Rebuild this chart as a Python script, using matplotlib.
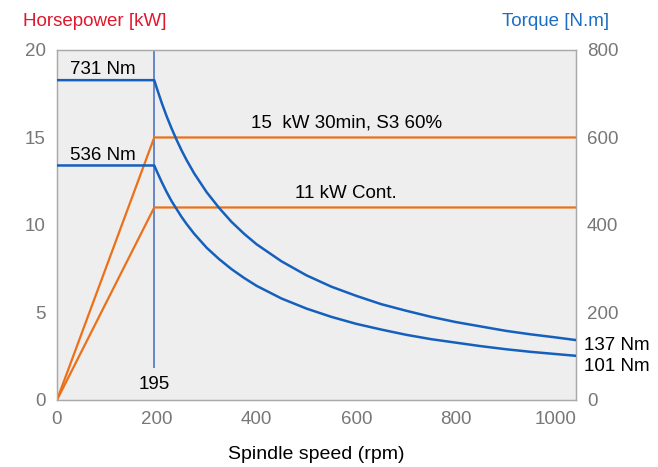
import matplotlib.pyplot as plt

plt.rcParams['font.family'] = ['Liberation Sans', 'DejaVu Sans']

# power curves (kW) vs spindle speed (rpm)
power_speed = [0, 195, 1040]
power_s3 = [0, 15, 15]
power_cont = [0, 11, 11]

# torque curves (Nm) vs spindle speed (rpm)
torque_speed = [0, 195, 200, 210, 220, 230, 240, 250, 260, 275, 300, 325,
                350, 375, 400, 450, 500, 550, 600, 650, 700, 750, 800,
                850, 900, 950, 1000, 1040]
torque_s3 = [731, 731, 713, 679, 648, 620, 594, 570, 548, 518, 475, 439,
             407, 380, 356, 317, 285, 259, 238, 219, 204, 190, 178,
             168, 158, 150, 143, 137]
torque_cont = [536, 536, 523, 498, 475, 454, 436, 418, 402, 380, 348, 322,
               299, 279, 261, 232, 209, 190, 174, 161, 149, 139, 131,
               123, 116, 110, 105, 101]

base_speed = 195

orange = '#ec7019'
blue = '#1560bd'
gray = '#777777'

fig = plt.figure(figsize=(6.58, 4.67), dpi=100)
ax = fig.add_axes([0.0866, 0.1435, 0.7884, 0.7495])
ax2 = ax.twinx()

ax.set_facecolor('#eeeeee')
ax.plot(power_speed, power_s3, color=orange, lw=1.6, zorder=3)
ax.plot(power_speed, power_cont, color=orange, lw=1.6, zorder=3)
ax.vlines(base_speed, 1.8, 20, color='#5b7fc9', lw=1.3, zorder=2)

ax2.plot(torque_speed, torque_s3, color=blue, lw=1.8, zorder=3)
ax2.plot(torque_speed, torque_cont, color=blue, lw=1.8, zorder=3)

ax.set_xlim(0, 1040)
ax.set_ylim(0, 20)
ax2.set_ylim(0, 800)
ax.set_xticks([0, 200, 400, 600, 800, 1000])
ax.set_yticks([0, 5, 10, 15, 20])
ax2.set_yticks([0, 200, 400, 600, 800])

for a in (ax, ax2):
    a.tick_params(length=0, labelsize=13.5, labelcolor=gray, pad=8)
    for s in a.spines.values():
        s.set_color('#aaaaaa')
        s.set_linewidth(0.9)

ax.set_xlabel('Spindle speed (rpm)', fontsize=14, labelpad=13)

fig.text(0.035, 0.955, 'Horsepower [kW]', color='#e0182d', fontsize=13.5,
         ha='left', va='center')
fig.text(0.925, 0.955, 'Torque [N.m]', color='#1b6ec2', fontsize=13.5,
         ha='right', va='center')

ax.text(92, 18.9, '731 Nm', fontsize=13.5, ha='center', va='center')
ax.text(92, 13.95, '536 Nm', fontsize=13.5, ha='center', va='center')
ax.text(580, 15.8, '15  kW 30min, S3 60%', fontsize=13.5, ha='center', va='center')
ax.text(580, 11.8, '11 kW Cont.', fontsize=13.5, ha='center', va='center')
ax.text(base_speed, 0.9, '195', fontsize=13.5, ha='center', va='center')
ax.text(1.015, 3.1 / 20, '137 Nm', transform=ax.transAxes, fontsize=13.5,
        ha='left', va='center')
ax.text(1.015, 1.9 / 20, '101 Nm', transform=ax.transAxes, fontsize=13.5,
        ha='left', va='center')

plt.savefig('out.png', dpi=100)
